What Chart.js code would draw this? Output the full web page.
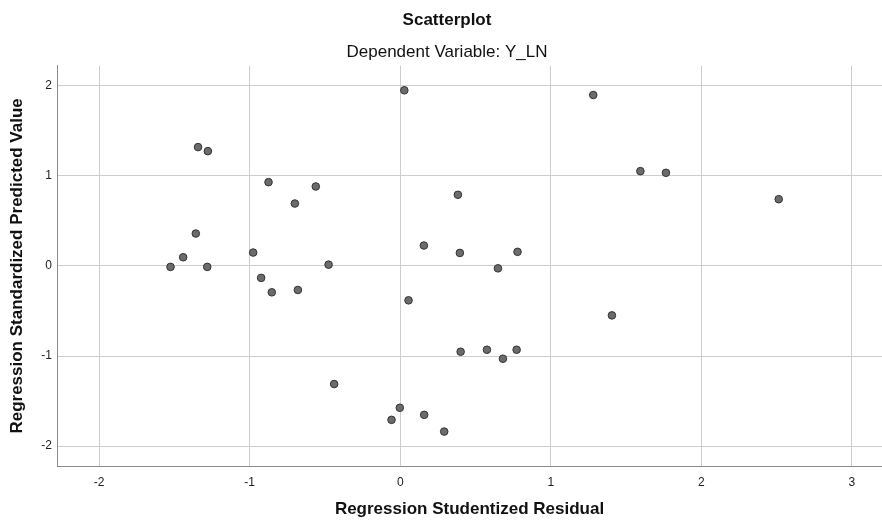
<!DOCTYPE html>
<html>
<head>
<meta charset="utf-8">
<script src="https://cdn.jsdelivr.net/npm/chart.js@4.4.1/dist/chart.umd.min.js"></script>
<style>
  html, body { margin: 0; padding: 0; background: #fff; }
  #wrap { width: 882px; height: 520px; }
</style>
</head>
<body>
<div id="wrap"><canvas id="scatter_chart"></canvas></div>
<script>
// Regression Studentized Residual (x) / Regression Standardized Predicted Value (y)
const residual = [
  -1.343, -1.278, -0.875, -0.700, -1.358, -1.442, -1.526, -1.282, -0.977,
  -0.924, -0.853, -0.680, 0.027, -0.561, -0.476, 0.383, 0.157, 0.396,
  0.779, 0.649, 0.055, -0.439, 0.401, 0.576, 0.773, 0.682, -0.003,
  -0.058, 0.159, 0.292, 1.282, 1.595, 1.765, 2.514, 1.406
];
const predicted = [
  1.318, 1.273, 0.929, 0.692, 0.359, 0.096, -0.011, -0.011, 0.148,
  -0.133, -0.293, -0.267, 1.948, 0.881, 0.014, 0.789, 0.226, 0.144,
  0.156, -0.027, -0.382, -1.311, -0.952, -0.930, -0.930, -1.030, -1.574,
  -1.708, -1.652, -1.838, 1.896, 1.051, 1.033, 0.740, -0.549
];

const xRange = [-2.28, 3.2];
const yRange = [-2.22, 2.22];

const points = residual.map((x, i) => ({ x: x, y: predicted[i] }));

Chart.defaults.font.family = "'Liberation Sans', Arial, sans-serif";
Chart.defaults.color = "#222";

// keep the plot area flush with the canvas edges
function noPad(scale) {
  scale.paddingLeft = 0;
  scale.paddingRight = 0;
  scale.paddingTop = 0;
  scale.paddingBottom = 0;
}

var ctx = document.getElementById('scatter_chart');
var myChart = new Chart(ctx, {
    type: 'scatter',
    data: {
        datasets: [
            {
                label: "Y_LN",
                data: points,
                backgroundColor: "#6b6b6b",
                borderColor: "#333",
                borderWidth: 1,
                pointRadius: 3.8,
            },
        ],
    },
    options: {
        responsive: true,
        maintainAspectRatio: false,
        animation: false,
        layout: {
            autoPadding: false,
            padding: { left: 12, right: 0, top: 0, bottom: 0 }
        },
        plugins: {
            legend: { display: false },
            tooltip: { enabled: false },
            title: {
                display: true,
                text: "Scatterplot",
                color: "#111",
                font: { size: 17, weight: 'bold' },
                padding: { top: 10, bottom: 0 }
            },
            subtitle: {
                display: true,
                text: "Dependent Variable: Y_LN",
                color: "#111",
                font: { size: 17 },
                padding: { top: 12, bottom: 3 }
            }
        },
        scales: {
            x: {
                type: 'linear',
                min: xRange[0],
                max: xRange[1],
                afterFit: function (scale) { scale.height = 54; noPad(scale); },
                grid: {
                    color: "#cdcdcd",
                    drawTicks: false
                },
                border: { color: "#8a8a8a" },
                ticks: {
                    stepSize: 1,
                    includeBounds: false,
                    padding: 9,
                    color: "#222",
                    font: { size: 12 }
                },
                title: {
                    display: true,
                    text: "Regression Studentized Residual",
                    color: "#111",
                    font: { size: 17, weight: 'bold' },
                    padding: { top: 0, bottom: 0 }
                }
            },
            y: {
                type: 'linear',
                min: yRange[0],
                max: yRange[1],
                afterFit: function (scale) { scale.width = 45; noPad(scale); },
                grid: {
                    color: "#cdcdcd",
                    drawTicks: false
                },
                border: { color: "#8a8a8a" },
                ticks: {
                    stepSize: 1,
                    includeBounds: false,
                    padding: 5,
                    color: "#222",
                    font: { size: 12 }
                },
                title: {
                    display: true,
                    text: "Regression Standardized Predicted Value",
                    color: "#111",
                    font: { size: 17, weight: 'bold' },
                    padding: { top: -5, bottom: 0 }
                }
            }
        }
    }
});
</script>
</body>
</html>
